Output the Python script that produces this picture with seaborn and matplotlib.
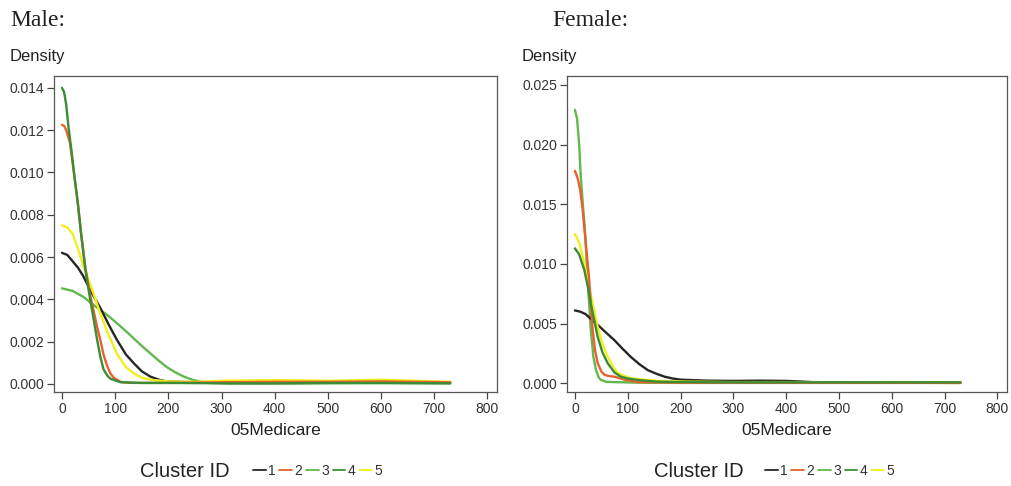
import matplotlib
matplotlib.use("Agg")
import matplotlib.pyplot as plt
from matplotlib.lines import Line2D
import seaborn as sns
import pandas as pd

sns.set_style("white")
plt.rcParams['font.family'] = ['Liberation Sans', 'DejaVu Sans']

# ---------------- data ----------------
clusters = ["1", "2", "3", "4", "5"]
colors = {"1": "#262626", "2": "#e8602c", "3": "#62b84e", "4": "#3b8c35", "5": "#f2ee1c"}
x_ticks = [0, 100, 200, 300, 400, 500, 600, 700, 800]
male_y_ticks = [0.000, 0.002, 0.004, 0.006, 0.008, 0.010, 0.012, 0.014]
female_y_ticks = [0.000, 0.005, 0.010, 0.015, 0.020, 0.025]

# Male
male_x_1 = [0, 10, 20, 30, 40, 56, 72, 88, 103, 120, 135, 150, 166, 182, 197, 250, 350, 450, 550, 650, 730]
male_d_1 = [0.0062, 0.0061, 0.0058, 0.0055, 0.0051, 0.0043, 0.0036, 0.0028, 0.0021, 0.0014, 0.00098, 0.0006,
            0.00035, 0.0002, 0.00012, 0.00008, 0.00008, 0.0001, 0.0001, 0.0001, 0.00008]
male_x_2 = [0, 4, 8, 15, 23, 30, 36, 44, 53, 60, 66, 72, 78, 85, 91, 97, 110, 130, 200, 300, 400, 500, 600, 730]
male_d_2 = [0.01225, 0.0122, 0.0120, 0.0114, 0.0099, 0.0085, 0.0071, 0.0055, 0.0042, 0.0034, 0.0027, 0.0021,
            0.0014, 0.00085, 0.0005, 0.0003, 0.0001, 0.00005, 0.00005, 0.00008, 0.0001, 0.0001, 0.00012, 0.00008]
male_x_3 = [0, 20, 40, 56, 72, 88, 103, 120, 135, 150, 166, 182, 197, 213, 229, 245, 260, 280, 320, 400,
            500, 600, 730]
male_d_3 = [0.00452, 0.0044, 0.00412, 0.0038, 0.0035, 0.0032, 0.00288, 0.0025, 0.00215, 0.0018, 0.00145,
            0.0011, 0.0008, 0.00055, 0.00035, 0.0002, 0.00011, 0.00005, 0.00002, 0.00002, 0.00003, 0.00004,
            0.00003]
male_x_4 = [0, 4, 8, 12, 18, 23, 30, 36, 44, 53, 60, 66, 72, 78, 85, 91, 110, 150, 200, 300, 400, 500, 600, 730]
male_d_4 = [0.0140, 0.0138, 0.0132, 0.0122, 0.0110, 0.0099, 0.0085, 0.0071, 0.0054, 0.0040, 0.0030, 0.0021,
            0.0013, 0.0007, 0.0004, 0.00025, 0.00008, 0.00005, 0.00005, 0.00003, 0.00003, 0.00005, 0.00005,
            0.00003]
male_x_5 = [0, 10, 20, 30, 40, 56, 72, 88, 103, 120, 135, 150, 166, 200, 250, 300, 400, 500, 600, 700, 730]
male_d_5 = [0.0075, 0.0074, 0.0071, 0.0064, 0.0056, 0.0045, 0.00334, 0.0023, 0.00145, 0.0008, 0.0005,
            0.0003, 0.0002, 0.00012, 0.0001, 0.00015, 0.00018, 0.00015, 0.0002, 0.00012, 0.0001]

# Female
female_x_1 = [0, 10, 20, 30, 43, 60, 75, 90, 106, 122, 138, 154, 170, 185, 201, 250, 300, 350, 400, 450, 550,
              650, 730]
female_d_1 = [0.0061, 0.0060, 0.0058, 0.0054, 0.0049, 0.0042, 0.0036, 0.0029, 0.0022, 0.0016, 0.0011, 0.0008,
              0.00055, 0.0004, 0.0003, 0.00022, 0.0002, 0.00022, 0.0002, 0.0001, 0.00005, 0.00005, 0.00005]
female_x_2 = [0, 5, 10, 14.5, 20, 27, 33.5, 38, 43, 50, 56, 65, 75, 94, 120, 200, 300, 400, 500, 600, 730]
female_d_2 = [0.0178, 0.0172, 0.0162, 0.0146, 0.0120, 0.0087, 0.0045, 0.0028, 0.0017, 0.0010, 0.0007,
              0.0006, 0.00055, 0.0003, 0.0001, 0.00005, 0.00005, 0.00005, 0.00005, 0.00005, 0.00003]
female_x_3 = [0, 4, 8, 11, 15, 19, 24, 30, 35, 40, 45, 49, 60, 75, 120, 200, 300, 400, 500, 600, 730]
female_d_3 = [0.0229, 0.0222, 0.0200, 0.0174, 0.0150, 0.0128, 0.0087, 0.0045, 0.0022, 0.0011, 0.0005,
              0.00028, 0.00012, 0.0001, 0.00005, 0.00003, 0.00003, 0.00003, 0.00003, 0.00003, 0.00003]
female_x_4 = [0, 8, 17.7, 24, 30, 37, 43, 52, 62, 75, 87, 100, 119, 150, 200, 300, 400, 500, 600, 730]
female_d_4 = [0.0113, 0.0108, 0.0095, 0.0082, 0.0067, 0.0052, 0.0039, 0.0026, 0.00168, 0.0009, 0.00055,
              0.0004, 0.00028, 0.00015, 0.0001, 0.00008, 0.00008, 0.00008, 0.00008, 0.00008]
female_x_5 = [0, 8, 16, 24, 33, 43, 52, 62, 72, 81, 94, 106, 130, 160, 200, 300, 400, 500, 600, 730]
female_d_5 = [0.0125, 0.0118, 0.0104, 0.00865, 0.0068, 0.00474, 0.0033, 0.00223, 0.0014, 0.00084, 0.0006,
              0.00042, 0.0003, 0.0002, 0.00015, 0.0001, 0.0001, 0.00008, 0.0001, 0.00008]


def long_frame(xs, ds):
    frames = []
    for c, x, d in zip(clusters, xs, ds):
        frames.append(pd.DataFrame({"x": x, "density": d, "cluster": c}))
    return pd.concat(frames, ignore_index=True)


male_df = long_frame([male_x_1, male_x_2, male_x_3, male_x_4, male_x_5],
                     [male_d_1, male_d_2, male_d_3, male_d_4, male_d_5])
female_df = long_frame([female_x_1, female_x_2, female_x_3, female_x_4, female_x_5],
                       [female_d_1, female_d_2, female_d_3, female_d_4, female_d_5])

W, H = 1011, 486
fig = plt.figure(figsize=(W / 100, H / 100), dpi=100)
fig.patch.set_facecolor("white")


def px_axes(left, top, right, bottom):
    return fig.add_axes([left / W, 1 - bottom / H, (right - left) / W, (bottom - top) / H])


ax_m = px_axes(54, 76, 497, 392)
ax_f = px_axes(567, 76, 1007, 392)

draw_order = ["3", "1", "5", "2", "4"]
for ax, df, ylim, yt in [
    (ax_m, male_df, (-0.00038, 0.01456), male_y_ticks),
    (ax_f, female_df, (-0.00073, 0.02574), female_y_ticks),
]:
    sns.lineplot(data=df, x="x", y="density", hue="cluster", hue_order=draw_order,
                 palette=colors, linewidth=1.7, ax=ax, legend=False, sort=False,
                 estimator=None)
    ax.set_xlim(-15, 818)
    ax.set_ylim(*ylim)
    ax.set_xticks(x_ticks)
    ax.set_xticklabels([str(t) for t in x_ticks])
    ax.set_yticks(yt)
    ax.set_yticklabels(["{:.3f}".format(t) for t in yt])
    ax.tick_params(axis="both", direction="out", length=5, width=0.9, color="#444444",
                   labelsize=10, labelcolor="#333333", pad=2)
    ax.xaxis.set_ticks_position("bottom")
    ax.yaxis.set_ticks_position("left")
    for s in ax.spines.values():
        s.set_color("#555555")
        s.set_linewidth(0.9)
    ax.set_xlabel("05Medicare", fontsize=12.5, color="#222222", labelpad=5)
    ax.set_ylabel("")
    ax.grid(False)

# y label "Density" above the axes
fig.text(10 / W, 1 - 57 / H, "Density", fontsize=12, color="#222222", va="center", ha="left")
fig.text(522 / W, 1 - 57 / H, "Density", fontsize=12, color="#222222", va="center", ha="left")

# panel titles
fig.text(10 / W, 1 - 20 / H, "Male:", fontsize=17, family="Liberation Serif", color="#222222",
         va="center", ha="left")
fig.text(552 / W, 1 - 20 / H, "Female:", fontsize=17, family="Liberation Serif", color="#222222",
         va="center", ha="left")

# legends
handles = [Line2D([0], [0], color=colors[c], lw=1.3) for c in clusters]
for tx, lx in [(140, 253), (654, 765)]:
    fig.text(tx / W, 1 - 471 / H, "Cluster ID", fontsize=14.5, color="#222222", va="center", ha="left")
    fig.legend(handles, clusters, loc="center left", bbox_to_anchor=(lx / W, 1 - 471 / H),
               ncol=5, frameon=False, fontsize=10, handlelength=0.9, handletextpad=0.2,
               columnspacing=0.25, borderaxespad=0, borderpad=0, labelcolor="#333333")

fig.savefig("out.png", dpi=100, facecolor="white")
